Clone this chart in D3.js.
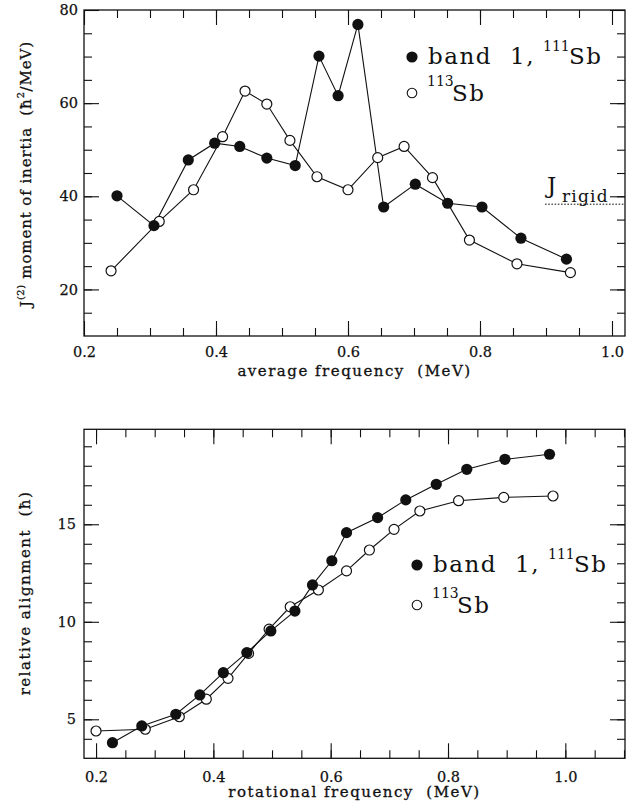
<!DOCTYPE html>
<html>
<head>
<meta charset="utf-8">
<script src="https://cdn.jsdelivr.net/npm/d3@7"></script>
<style>
  body { margin: 0; background: #fff; }
  svg { display: block; }
</style>
</head>
<body>
<div id="chart"></div>
<script>
// ---- upper panel: dynamic moment of inertia vs average frequency ----
const jBand1Freq = [0.250, 0.306, 0.358, 0.398, 0.436, 0.477, 0.520, 0.556, 0.585, 0.615, 0.654, 0.702, 0.751, 0.803, 0.862, 0.931];
const jBand1Val  = [40.1, 33.7, 47.8, 51.4, 50.7, 48.2, 46.6, 70.1, 61.6, 76.9, 37.7, 42.6, 38.5, 37.7, 31.0, 26.5];
const j113Freq   = [0.241, 0.314, 0.366, 0.410, 0.444, 0.477, 0.512, 0.553, 0.600, 0.645, 0.685, 0.728, 0.784, 0.856, 0.937];
const j113Val    = [24.0, 34.6, 41.4, 52.8, 62.6, 59.8, 52.0, 44.2, 41.4, 48.3, 50.7, 44.0, 30.6, 25.5, 23.6];
const jRigid = 38.3;
const topXTicks = [0.2, 0.4, 0.6, 0.8, 1.0];
const topYTicks = [20, 40, 60, 80];

// ---- lower panel: relative alignment vs rotational frequency ----
const alBand1Freq = [0.228, 0.278, 0.336, 0.377, 0.417, 0.457, 0.498, 0.539, 0.569, 0.602, 0.627, 0.680, 0.728, 0.780, 0.832, 0.897, 0.973];
const alBand1Val  = [3.80, 4.66, 5.26, 6.25, 7.39, 8.42, 9.53, 10.55, 11.89, 13.13, 14.57, 15.34, 16.25, 17.05, 17.82, 18.33, 18.59];
const al113Freq   = [0.200, 0.284, 0.342, 0.388, 0.425, 0.460, 0.495, 0.531, 0.579, 0.627, 0.666, 0.708, 0.752, 0.818, 0.895, 0.979];
const al113Val    = [4.40, 4.49, 5.13, 6.03, 7.10, 8.38, 9.62, 10.77, 11.63, 12.61, 13.68, 14.74, 15.68, 16.21, 16.38, 16.45];
const botXTicks = [0.2, 0.4, 0.6, 0.8, 1.0];
const botYTicks = [5, 10, 15];

const W = 626, H = 805;
const tickFont = "DejaVu Serif";
const titleFont = "DejaVu Serif";
const legendFont = "DejaVu Serif";

const svg = d3.select("#chart").append("svg")
    .attr("width", W)
    .attr("height", H)
    .style("background", "#fff");

function drawPanel(p) {
    const x = d3.scaleLinear().domain(p.xDomain).range([p.left, p.right]);
    const y = d3.scaleLinear().domain(p.yDomain).range([p.bottom, p.top]);
    const g = svg.append("g");

    // ticks on all four sides, pointing inwards
    function addAxis(axisFn, tr, vals, len, fmt, pad) {
        const ax = g.append("g")
            .attr("transform", tr)
            .call(axisFn.tickValues(vals).tickSizeInner(-len).tickSizeOuter(0)
                .tickPadding(pad).tickFormat(fmt || (() => "")));
        ax.select(".domain").remove();
        ax.selectAll("line").attr("stroke", "#111").attr("stroke-width", 1.1);
        ax.attr("font-family", tickFont).attr("font-size", 14.5);
        ax.selectAll("text").attr("fill", "#111")
            .attr("stroke", "#111").attr("stroke-width", 0.25);
        return ax;
    }
    const fx = d3.format(".1f"), fy = d3.format("d");
    addAxis(d3.axisBottom(x), `translate(0,${p.bottom})`, p.xMinor, 8, null, 0);
    addAxis(d3.axisBottom(x), `translate(0,${p.bottom})`, p.xMajor, 15, fx, p.xPad);
    addAxis(d3.axisTop(x), `translate(0,${p.top})`, p.xMinor, 8, null, 0);
    addAxis(d3.axisTop(x), `translate(0,${p.top})`, p.xMajor, 15, null, 0);
    addAxis(d3.axisLeft(y), `translate(${p.left},0)`, p.yMinor, 8, null, 0);
    addAxis(d3.axisLeft(y), `translate(${p.left},0)`, p.yMajor, 15, fy, p.yPad);
    addAxis(d3.axisRight(y), `translate(${p.right},0)`, p.yMinor, 8, null, 0);
    addAxis(d3.axisRight(y), `translate(${p.right},0)`, p.yMajor, 15, null, 0);

    g.append("rect")
        .attr("x", p.left).attr("y", p.top)
        .attr("width", p.right - p.left).attr("height", p.bottom - p.top)
        .attr("fill", "none").attr("stroke", "#111").attr("stroke-width", 1.3);

    // axis titles
    g.append("text")
        .attr("x", (p.left + p.right) / 2)
        .attr("y", p.xTitleY)
        .attr("text-anchor", "middle")
        .attr("font-family", titleFont).attr("font-size", 15)
        .attr("letter-spacing", 1.5)
        .attr("fill", "#111").attr("stroke", "#111").attr("stroke-width", 0.3)
        .style("white-space", "pre")
        .text(p.xTitle);

    const yt = g.append("text")
        .attr("transform", `translate(${p.yTitleX},${p.yTitleY}) rotate(-90)`)
        .attr("text-anchor", "middle")
        .attr("font-family", titleFont).attr("font-size", 15)
        .attr("letter-spacing", p.yTitleSpacing)
        .attr("fill", "#111").attr("stroke", "#111").attr("stroke-width", 0.3)
        .style("white-space", "pre");
    p.yTitle.forEach(part => {
        const t = yt.append("tspan").text(part.t);
        if (part.sup) t.attr("font-size", 10).attr("dy", -7).attr("letter-spacing", 0.5);
        if (part.down) t.attr("dy", 7);
    });

    // lines + markers
    const line = d3.line().x(d => x(d[0])).y(d => y(d[1]));
    const s113 = p.openX.map((v, i) => [v, p.openY[i]]);
    const sB1 = p.fillX.map((v, i) => [v, p.fillY[i]]);
    g.append("path").datum(s113).attr("d", line)
        .attr("fill", "none").attr("stroke", "#111").attr("stroke-width", 1.1);
    g.append("path").datum(sB1).attr("d", line)
        .attr("fill", "none").attr("stroke", "#111").attr("stroke-width", 1.1);
    g.selectAll("circle.open").data(s113).enter().append("circle")
        .attr("class", "open")
        .attr("cx", d => x(d[0])).attr("cy", d => y(d[1])).attr("r", 5)
        .attr("fill", "#fff").attr("stroke", "#111").attr("stroke-width", 1.2);
    g.selectAll("circle.fill").data(sB1).enter().append("circle")
        .attr("class", "fill")
        .attr("cx", d => x(d[0])).attr("cy", d => y(d[1])).attr("r", 5.6)
        .attr("fill", "#111");

    // legend
    const lg = p.legend;
    const row1 = lg.y, row2 = lg.y + lg.gap;
    g.append("circle").attr("cx", lg.x).attr("cy", row1).attr("r", 5.6).attr("fill", "#111");
    g.append("circle").attr("cx", lg.x).attr("cy", row2).attr("r", 4.8)
        .attr("fill", "#fff").attr("stroke", "#111").attr("stroke-width", 1.1);
    const big = (tx, ty, s) => g.append("text").attr("x", tx).attr("y", ty)
        .attr("font-family", legendFont).attr("font-size", 23).attr("letter-spacing", 1.5)
        .attr("fill", "#111").text(s);
    const small = (tx, ty, s) => g.append("text").attr("x", tx).attr("y", ty)
        .attr("font-family", legendFont).attr("font-size", 14)
        .attr("fill", "#111").text(s);
    big(lg.x + 16, row1 + 7, "band");
    big(lg.x + 98, row1 + 7, "1,");
    small(lg.x + 131, row1 - 6, "111");
    big(lg.x + 157, row1 + 7, "Sb");
    small(lg.x + 15, row2 - 7, "113");
    big(lg.x + 40, row2 + 8, "Sb");

    return { x, y, g };
}

const upper = drawPanel({
    left: 84, right: 625, top: 10, bottom: 336,
    xDomain: [0.2, 1.0197], yDomain: [10, 80],
    xMajor: topXTicks, xMinor: d3.range(0.25, 1.0, 0.05),
    yMajor: topYTicks, yMinor: d3.range(15, 80, 5),
    xPad: 11, yPad: 6,
    xTitle: "average frequency  (MeV)", xTitleY: 376,
    yTitle: [{t: "J"}, {t: "(2)", sup: true}, {t: " moment of inertia  (ħ", down: true},
             {t: "2", sup: true}, {t: "/MeV)", down: true}],
    yTitleX: 31, yTitleY: 174, yTitleSpacing: 0.9,
    fillX: jBand1Freq, fillY: jBand1Val, openX: j113Freq, openY: j113Val,
    legend: {x: 412, y: 57, gap: 36}
});

// J_rigid reference line
const xr0 = upper.x.invert(545);
upper.g.append("line")
    .attr("x1", upper.x(xr0)).attr("x2", upper.x(upper.x.domain()[1]))
    .attr("y1", upper.y(jRigid)).attr("y2", upper.y(jRigid))
    .attr("stroke", "#111").attr("stroke-width", 1).attr("stroke-dasharray", "1.6,1.6");
upper.g.append("text")
    .attr("x", upper.x(xr0) + 2).attr("y", upper.y(jRigid) - 11)
    .attr("font-family", legendFont).attr("font-size", 23).attr("fill", "#111")
    .text("J");
upper.g.append("text")
    .attr("x", upper.x(xr0) + 17).attr("y", upper.y(jRigid) - 2)
    .attr("font-family", legendFont).attr("font-size", 17).attr("letter-spacing", 1.2)
    .attr("fill", "#111")
    .text("rigid");

drawPanel({
    left: 84, right: 625, top: 429.3, bottom: 758.3,
    xDomain: [0.1795, 1.1017], yDomain: [3, 19.87],
    xMajor: botXTicks, xMinor: d3.range(0.2, 1.11, 0.05),
    yMajor: botYTicks, yMinor: d3.range(4, 20, 1),
    xPad: 13, yPad: 8,
    xTitle: "rotational frequency  (MeV)", xTitleY: 797,
    yTitle: [{t: "relative alignment  (ħ)"}],
    yTitleX: 30, yTitleY: 593, yTitleSpacing: 1.5,
    fillX: alBand1Freq, fillY: alBand1Val, openX: al113Freq, openY: al113Val,
    legend: {x: 417, y: 565, gap: 40}
});
</script>
</body>
</html>
